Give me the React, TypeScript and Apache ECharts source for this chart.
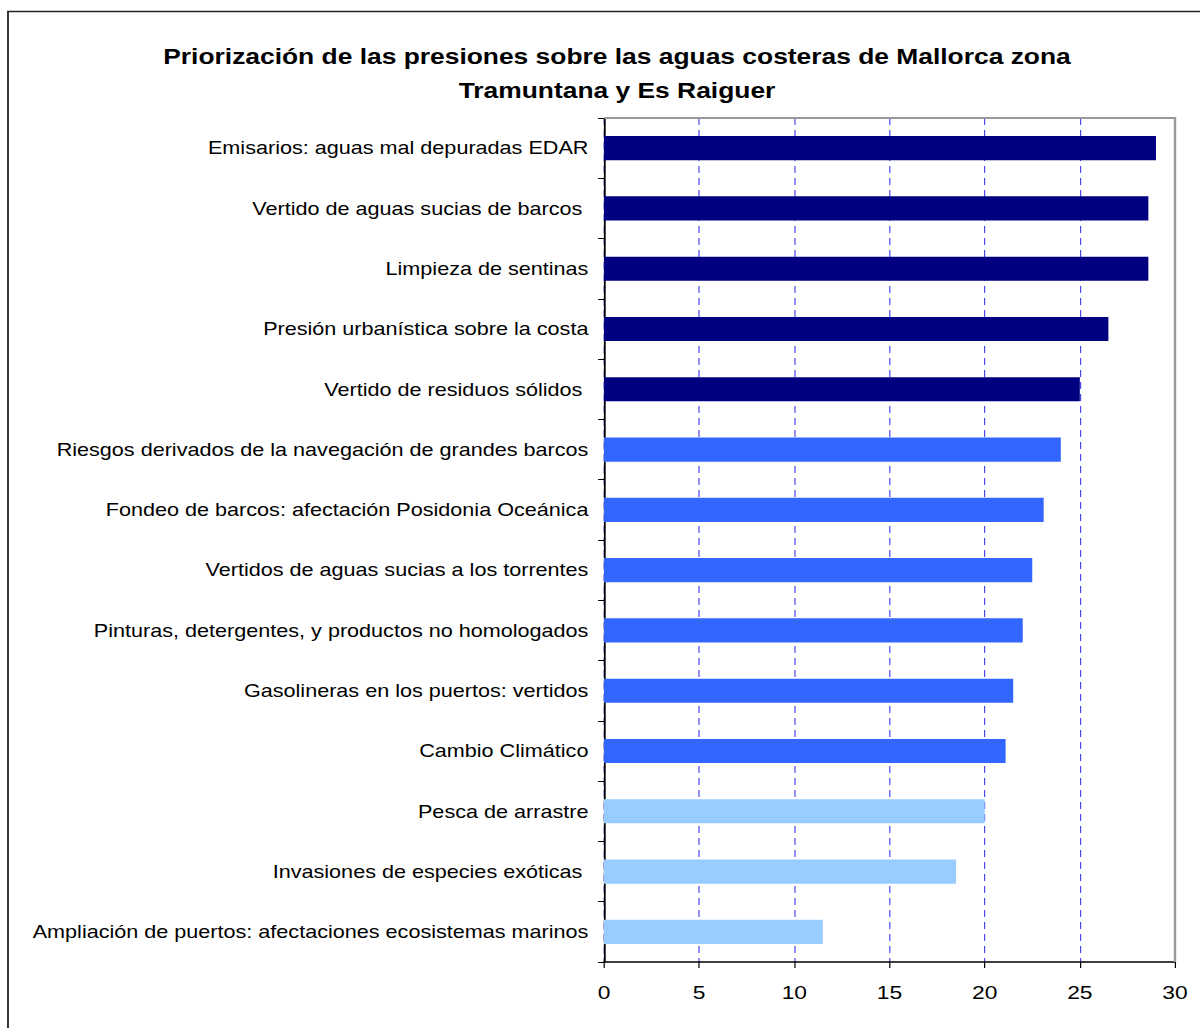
import React, { useEffect, useRef } from "react";
import * as echarts from "echarts";

const categories = [
  "Emisarios: aguas mal depuradas EDAR",
  "Vertido de aguas sucias de barcos ",
  "Limpieza de sentinas",
  "Presión urbanística sobre la costa",
  "Vertido de residuos sólidos ",
  "Riesgos derivados de la navegación de grandes barcos",
  "Fondeo de barcos: afectación Posidonia Oceánica",
  "Vertidos de aguas sucias a los torrentes",
  "Pinturas, detergentes, y productos no homologados",
  "Gasolineras en los puertos: vertidos",
  "Cambio Climático",
  "Pesca de arrastre",
  "Invasiones de especies exóticas ",
  "Ampliación de puertos: afectaciones ecosistemas marinos",
];
const values = [29, 28.6, 28.6, 26.5, 25, 24, 23.1, 22.5, 22, 21.5, 21.1, 20, 18.5, 11.5];
const levels = [0, 0, 0, 0, 0, 1, 1, 1, 1, 1, 1, 2, 2, 2];
const levelColors = ["#000080", "#3366FF", "#99CCFF"];
const xTicks = [0, 5, 10, 15, 20, 25, 30];

// The reference rendering is horizontally stretched; draw at 1000px and scale by 1.2.
const SX = 1.2;
const W = 1000;

export default function App() {
  const ref = useRef<HTMLDivElement>(null);
  useEffect(() => {
    const chart = echarts.init(ref.current!, null, { renderer: "svg" });
    const font = "Arial, 'Liberation Sans', sans-serif";
    const left = 604 / SX;
    const right = 1175 / SX;
    chart.setOption({
      animation: false,
      backgroundColor: "#ffffff",
      title: {
        text: "Priorización de las presiones sobre las aguas costeras de Mallorca zona\nTramuntana y Es Raiguer",
        left: 611 / SX,
        top: 34,
        textAlign: "center",
        textStyle: {
          fontFamily: font,
          fontSize: 22,
          fontWeight: "bold",
          color: "#000",
          lineHeight: 34,
        },
      },
      graphic: [
        {
          type: "rect",
          shape: { x: 8 / SX, y: 11.5, width: W + 20, height: 1030 },
          style: { fill: "none", stroke: "#222", lineWidth: 1.5 },
          silent: true,
        },
        {
          type: "polyline",
          shape: { points: [[left, 118], [right, 118], [right, 962]] },
          style: { fill: "none", stroke: "#999", lineWidth: 2 },
          silent: true,
          z: 100,
        },
      ],
      grid: { left: left, top: 118, right: W - right, bottom: 66, containLabel: false },
      xAxis: {
        type: "value",
        min: xTicks[0],
        max: xTicks[xTicks.length - 1],
        interval: 5,
        axisLine: { show: true, lineStyle: { color: "#000", width: 1.5 } },
        axisTick: { show: true, length: 6, lineStyle: { color: "#000" } },
        axisLabel: { fontFamily: font, fontSize: 19, color: "#000", margin: 21 },
        splitLine: {
          show: true,
          lineStyle: { color: "#4a4aee", type: [7, 5], width: 1 },
        },
      },
      yAxis: {
        type: "category",
        data: categories,
        inverse: true,
        axisLine: { show: true, lineStyle: { color: "#000", width: 1.5 } },
        axisTick: { show: true, length: 5, lineStyle: { color: "#000" } },
        axisLabel: { fontFamily: font, fontSize: 18, color: "#000", margin: 13 },
        splitLine: { show: false },
      },
      series: [
        {
          type: "bar",
          data: values.map((v, i) => ({
            value: v,
            itemStyle: { color: levelColors[levels[i]] },
          })),
          barCategoryGap: "60%",
          silent: true,
        },
      ],
    });
    return () => chart.dispose();
  }, []);
  return (
    <div style={{ position: "absolute", left: 0, top: 0, width: 1200, height: 1028, overflow: "hidden" }}>
      <div
        ref={ref}
        style={{
          width: W,
          height: 1028,
          transform: `scaleX(${SX})`,
          transformOrigin: "0 0",
        }}
      />
    </div>
  );
}
